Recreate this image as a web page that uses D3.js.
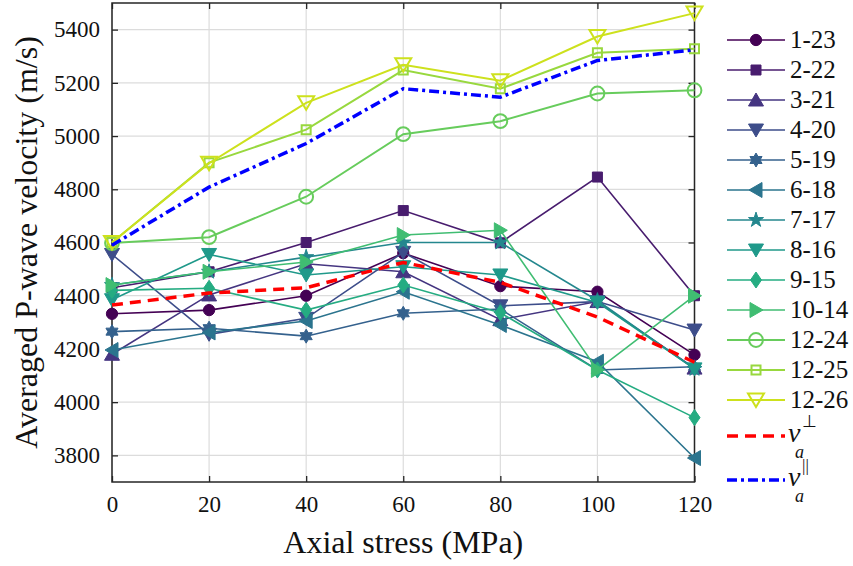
<!DOCTYPE html>
<html>
<head>
<meta charset="utf-8">
<script src="https://cdn.jsdelivr.net/npm/d3@7"></script>
<style>
  body { margin: 0; background: #fff; }
  svg text { font-family: "Liberation Serif", "Times New Roman", serif !important; fill: #111; }
</style>
</head>
<body>
<div id="chart"></div>
<script>
// stress levels (MPa)
const stress = [0, 20, 40, 60, 80, 100, 120];

const seriesNames = ["1-23", "2-22", "3-21", "4-20", "5-19", "6-18", "7-17", "8-16", "9-15", "10-14", "12-24", "12-25", "12-26"];
const markerTypes = ["circle", "square", "triUp", "triDown", "hexagram", "triLeft", "pentagram", "triDown", "diamond", "triRight", "openCircle", "openSquare", "openTriDown"];

const v1_23  = [4332, 4346, 4400, 4560, 4436, 4415, 4178];
const v2_22  = [4430, 4490, 4600, 4720, 4599, 4846, 4400];
const v3_21  = [4180, 4403, 4520, 4490, 4310, 4378, 4128];
const v4_20  = [4555, 4255, 4315, 4563, 4362, 4378, 4271];
const v5_19  = [4265, 4278, 4248, 4334, 4350, 4121, 4133];
const v6_18  = [4196, 4262, 4305, 4415, 4290, 4152, 3790];
const v7_17  = [4440, 4490, 4545, 4600, 4600, 4382, 4125];
const v8_16  = [4385, 4555, 4478, 4509, 4478, 4375, 4125];
const v9_15  = [4420, 4428, 4346, 4440, 4336, 4121, 3942];
const v10_14 = [4440, 4490, 4527, 4628, 4646, 4121, 4400];
const v12_24 = [4598, 4620, 4772, 5007, 5056, 5160, 5172];
const v12_25 = [4600, 4900, 5024, 5248, 5178, 5313, 5328];
const v12_26 = [4600, 4898, 5125, 5268, 5208, 5374, 5462];
const vPerp  = [4365, 4410, 4430, 4525, 4450, 4320, 4150];
const vPar   = [4590, 4808, 4972, 5178, 5146, 5284, 5324];

const seriesValues = [v1_23, v2_22, v3_21, v4_20, v5_19, v6_18, v7_17, v8_16, v9_15, v10_14, v12_24, v12_25, v12_26];

const xTicks = [0, 20, 40, 60, 80, 100, 120];
const yTicks = [3800, 4000, 4200, 4400, 4600, 4800, 5000, 5200, 5400];

const W = 853, H = 566;
const plot = { left: 112, right: 694.5, top: 3, bottom: 482 };
const SERIF = "'Liberation Serif', 'Times New Roman', serif";

const svg = d3.select("#chart").append("svg")
    .attr("width", W)
    .attr("height", H);

const x = d3.scaleLinear().domain([0, 120]).range([plot.left, plot.right]);
const y = d3.scaleLinear().domain([3700, 5500]).range([plot.bottom, plot.top]);

const colors = seriesNames.map((d, i) => d3.interpolateViridis(i / 13));

// grid
const grid = svg.append("g");
grid.selectAll(".gx").data(xTicks).enter().append("line")
    .attr("x1", d => x(d)).attr("x2", d => x(d))
    .attr("y1", plot.top).attr("y2", plot.bottom)
    .attr("stroke", "#dcdcdc").attr("stroke-width", 1.2);
grid.selectAll(".gy").data(yTicks).enter().append("line")
    .attr("x1", plot.left).attr("x2", plot.right)
    .attr("y1", d => y(d)).attr("y2", d => y(d))
    .attr("stroke", "#dcdcdc").attr("stroke-width", 1.2);

// axes with inward ticks on all sides
const tickLen = 6;
const styleLabels = g => g.selectAll("text")
    .style("font-family", SERIF).style("font-size", "23px").attr("fill", "#111");
svg.append("g")
    .attr("transform", "translate(0," + plot.bottom + ")")
    .call(d3.axisBottom(x).tickValues(xTicks).tickFormat(d3.format("d")).tickSizeInner(-tickLen).tickSizeOuter(0).tickPadding(14))
    .call(g => g.select(".domain").remove())
    .call(styleLabels);
svg.append("g")
    .attr("transform", "translate(0," + plot.top + ")")
    .call(d3.axisTop(x).tickValues(xTicks).tickSizeInner(-tickLen).tickSizeOuter(0).tickFormat(""))
    .call(g => g.select(".domain").remove());
svg.append("g")
    .attr("transform", "translate(" + plot.left + ",0)")
    .call(d3.axisLeft(y).tickValues(yTicks).tickFormat(d3.format("d")).tickSizeInner(-tickLen).tickSizeOuter(0).tickPadding(12))
    .call(g => g.select(".domain").remove())
    .call(styleLabels);
svg.append("g")
    .attr("transform", "translate(" + plot.right + ",0)")
    .call(d3.axisRight(y).tickValues(yTicks).tickSizeInner(-tickLen).tickSizeOuter(0).tickFormat(""))
    .call(g => g.select(".domain").remove());
svg.selectAll(".tick line").attr("stroke", "#262626").attr("stroke-width", 1.3);

svg.append("rect")
    .attr("x", plot.left).attr("y", plot.top)
    .attr("width", plot.right - plot.left).attr("height", plot.bottom - plot.top)
    .attr("fill", "none").attr("stroke", "#262626").attr("stroke-width", 1.5);

// marker shapes
function markerPath(type) {
    switch (type) {
        case "circle": return d3.symbol(d3.symbolCircle, 100)();
        case "openCircle": return d3.symbol(d3.symbolCircle, 150)();
        case "square": return "M-5,-5H5V5H-5Z";
        case "openSquare": return "M-4.5,-4.5H4.5V4.5H-4.5Z";
        case "triUp": return "M0,-7L7.5,6L-7.5,6Z";
        case "triDown": return "M0,7L7.5,-6L-7.5,-6Z";
        case "openTriDown": return "M0,7L8,-6.5L-8,-6.5Z";
        case "triLeft": return "M-7,0L6,-7.5L6,7.5Z";
        case "triRight": return "M7,0L-6,-7.5L-6,7.5Z";
        case "diamond": return "M0,-8L5.5,0L0,8L-5.5,0Z";
        case "pentagram": return d3.symbol(d3.symbolStar, 70)();
        case "hexagram": {
            const r = 7, a = [];
            for (let k = 0; k < 12; k++) {
                const rr = k % 2 === 0 ? r : r * 0.577;
                const ang = -Math.PI / 2 + k * Math.PI / 6;
                a.push([rr * Math.cos(ang), rr * Math.sin(ang)]);
            }
            return "M" + a.map(p => p.join(",")).join("L") + "Z";
        }
    }
}
const isOpen = t => t.startsWith("open");

const line = d3.line().x((d, i) => x(stress[i])).y(d => y(d));

const plotG = svg.append("g");
seriesValues.forEach((vals, s) => {
    const g = plotG.append("g");
    g.append("path")
        .datum(vals)
        .attr("d", line)
        .attr("fill", "none")
        .attr("stroke", colors[s])
        .attr("stroke-width", s >= 10 ? 2 : 1.6);
    g.selectAll("path.mk").data(vals).enter().append("path")
        .attr("class", "mk")
        .attr("d", markerPath(markerTypes[s]))
        .attr("transform", (d, i) => "translate(" + x(stress[i]) + "," + y(d) + ")")
        .attr("fill", isOpen(markerTypes[s]) ? "none" : colors[s])
        .attr("stroke", colors[s])
        .attr("stroke-width", isOpen(markerTypes[s]) ? 2 : 1);
});

plotG.append("path").datum(vPerp).attr("d", line)
    .attr("fill", "none").attr("stroke", "#ff0000").attr("stroke-width", 3.5)
    .attr("stroke-dasharray", "11,7");
plotG.append("path").datum(vPar).attr("d", line)
    .attr("fill", "none").attr("stroke", "#0000ff").attr("stroke-width", 3.5)
    .attr("stroke-dasharray", "10,4,3,4");

// axis titles
svg.append("text")
    .attr("x", x(60)).attr("y", 553)
    .attr("text-anchor", "middle")
    .style("font-size", "32px")
    .text("Axial stress (MPa)");
svg.append("text")
    .attr("transform", "translate(37," + ((plot.top + plot.bottom) / 2) + ") rotate(-90)")
    .attr("text-anchor", "middle")
    .style("font-size", "32px")
    .text("Averaged P-wave velocity (m/s)");

// legend
const leg = svg.append("g");
const lx0 = 727, lx1 = 785, ltx = 790;
seriesNames.forEach((name, s) => {
    const ly = 40 + s * 30;
    leg.append("line").attr("x1", lx0).attr("x2", lx1).attr("y1", ly).attr("y2", ly)
        .attr("stroke", colors[s]).attr("stroke-width", s >= 10 ? 2 : 1.6);
    leg.append("path").attr("d", markerPath(markerTypes[s]))
        .attr("transform", "translate(" + ((lx0 + lx1) / 2) + "," + ly + ")")
        .attr("fill", isOpen(markerTypes[s]) ? "none" : colors[s])
        .attr("stroke", colors[s])
        .attr("stroke-width", isOpen(markerTypes[s]) ? 2 : 1);
    leg.append("text").attr("x", ltx).attr("y", ly + 8).style("font-size", "25px").text(name);
});

const specials = [
    { y: 436, color: "#ff0000", dash: "11,7", sup: "\u22A5" },
    { y: 480, color: "#0000ff", dash: "10,4,3,4", sup: "||" }
];
specials.forEach(sp => {
    leg.append("line").attr("x1", lx0).attr("x2", lx1).attr("y1", sp.y).attr("y2", sp.y)
        .attr("stroke", sp.color).attr("stroke-width", 3.5).attr("stroke-dasharray", sp.dash);
    const t = leg.append("text").attr("x", ltx - 2).attr("y", sp.y + 6);
    t.append("tspan").style("font-size", "28px").style("font-style", "italic").text("v");
    t.append("tspan").attr("x", ltx + 12).attr("y", sp.y - 9).style("font-size", "17px").text(sp.sup);
    t.append("tspan").attr("x", ltx + 5).attr("y", sp.y + 22)
        .style("font-size", "18px").style("font-style", "italic").text("a");
});
</script>
</body>
</html>
